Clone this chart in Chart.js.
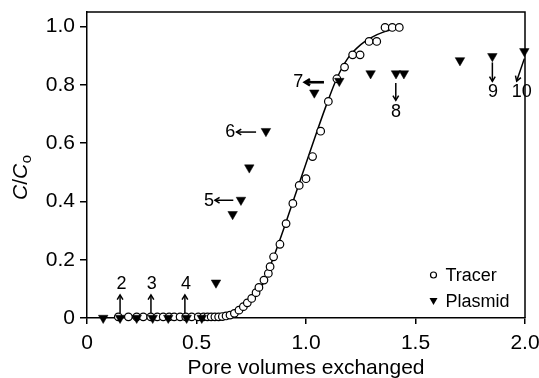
<!DOCTYPE html>
<html>
<head>
<meta charset="utf-8">
<script src="https://cdn.jsdelivr.net/npm/chart.js@4.4.1/dist/chart.umd.min.js"></script>
<style>
  html, body { margin: 0; padding: 0; background: #fff; }
  #wrap { width: 539px; height: 378px; position: relative; }
</style>
</head>
<body>
<div id="wrap"><canvas id="c"></canvas></div>
<script>
// ---- data ----
const tracerX = [0.143,0.189,0.227,0.257,0.291,0.321,0.348,0.375,0.398,0.425,0.451,0.478,0.508,0.532,0.550,0.567,0.584,0.601,0.618,0.635,0.653,0.673,0.694,0.714,0.732,0.752,0.772,0.785,0.808,0.828,0.836,0.852,0.881,0.909,0.940,0.969,1.000,1.030,1.067,1.102,1.141,1.176,1.213,1.247,1.288,1.323,1.361,1.394,1.426];
const tracerY = [0.004,0.004,0.004,0.004,0.004,0.004,0.004,0.004,0.004,0.004,0.004,0.004,0.004,0.004,0.004,0.004,0.004,0.004,0.005,0.007,0.010,0.016,0.027,0.039,0.052,0.067,0.087,0.105,0.130,0.153,0.176,0.210,0.253,0.324,0.393,0.455,0.478,0.554,0.641,0.743,0.821,0.861,0.903,0.903,0.949,0.949,0.997,0.997,0.997];

const plasmidX = [0.074,0.151,0.227,0.300,0.371,0.455,0.524,0.589,0.665,0.703,0.741,0.817,1.038,1.152,1.295,1.411,1.447,1.703,1.851,1.997];
const plasmidY = [0,0,0,0,0,0,0,0.121,0.356,0.405,0.516,0.641,0.773,0.813,0.839,0.839,0.839,0.884,0.898,0.915];

const fitX = [0.45,0.50,0.55,0.60,0.65,0.70,0.75,0.79,0.85,0.90,0.95,1.00,1.05,1.10,1.14,1.19,1.25,1.30,1.35,1.43];
const fitY = [0,0.001,0.002,0.006,0.012,0.027,0.056,0.096,0.205,0.310,0.420,0.530,0.640,0.745,0.821,0.890,0.938,0.963,0.980,0.995];

const xTicks = [0,0.5,1.0,1.5,2.0];
const yTicks = [0,0.2,0.4,0.6,0.8,1.0];

const seriesNames = ['Tracer','Plasmid'];
const xTitle = 'Pore volumes exchanged';

// numbered annotations (data coordinates): label, text position, arrow tail -> head
const notes = [
  {label:'2',  tx:0.158, ty:0.115, fx:0.151, fy:0.017, hx:0.151, hy:0.079},
  {label:'3',  tx:0.296, ty:0.115, fx:0.292, fy:0.017, hx:0.292, hy:0.079},
  {label:'4',  tx:0.452, ty:0.115, fx:0.447, fy:0.017, hx:0.447, hy:0.079},
  {label:'5',  tx:0.557, ty:0.401, fx:0.668, fy:0.404, hx:0.584, hy:0.404},
  {label:'6',  tx:0.654, ty:0.637, fx:0.772, fy:0.638, hx:0.683, hy:0.638},
  {label:'7',  tx:0.965, ty:0.809, fx:1.082, fy:0.809, hx:0.995, hy:0.809, bold:true},
  {label:'8',  tx:1.411, ty:0.707, fx:1.410, fy:0.806, hx:1.410, hy:0.747},
  {label:'9',  tx:1.854, ty:0.777, fx:1.851, fy:0.877, hx:1.851, hy:0.812},
  {label:'10', tx:1.985, ty:0.777, fx:1.997, fy:0.890, hx:1.962, hy:0.813}
];

const FONT = '"Liberation Sans", Arial, Helvetica, sans-serif';

function pts(xs, ys){ return xs.map((x,i)=>({x:x, y:ys[i]})); }

const decor = {
  id: 'decor',
  afterDatasetsDraw(chart){
    const ctx = chart.ctx, a = chart.chartArea;
    const xs = chart.scales.x, ys = chart.scales.y;
    ctx.save();
    // frame (top and right)
    ctx.strokeStyle = '#000'; ctx.lineWidth = 1.5;
    ctx.beginPath();
    ctx.moveTo(a.left, a.top); ctx.lineTo(a.right, a.top); ctx.lineTo(a.right, a.bottom);
    ctx.stroke();

    // annotations
    ctx.fillStyle = '#000';
    ctx.font = '18px ' + FONT;
    ctx.textAlign = 'center'; ctx.textBaseline = 'middle';
    notes.forEach(n => {
      ctx.fillText(n.label, xs.getPixelForValue(n.tx), ys.getPixelForValue(n.ty));
      const x1 = xs.getPixelForValue(n.fx), y1 = ys.getPixelForValue(n.fy);
      const x2 = xs.getPixelForValue(n.hx), y2 = ys.getPixelForValue(n.hy);
      ctx.lineWidth = n.bold ? 2.6 : 1.5;
      ctx.beginPath(); ctx.moveTo(x1,y1); ctx.lineTo(x2,y2); ctx.stroke();
      const ang = Math.atan2(y2-y1, x2-x1), L = n.bold ? 6 : 5.5, w = 0.55;
      ctx.beginPath();
      ctx.moveTo(x2 - L*Math.cos(ang - w), y2 - L*Math.sin(ang - w));
      ctx.lineTo(x2, y2);
      ctx.lineTo(x2 - L*Math.cos(ang + w), y2 - L*Math.sin(ang + w));
      ctx.stroke();
    });

    // legend
    const lx = 433.5, ly1 = 275, ly2 = 301.5;
    ctx.lineWidth = 1.2;
    ctx.fillStyle = '#fff';
    ctx.beginPath(); ctx.arc(lx, ly1, 3, 0, Math.PI*2); ctx.fill(); ctx.stroke();
    ctx.fillStyle = '#000';
    ctx.beginPath(); ctx.moveTo(lx-4, ly2-3.5); ctx.lineTo(lx+4, ly2-3.5); ctx.lineTo(lx, ly2+3.5); ctx.closePath(); ctx.fill();
    ctx.font = '18px ' + FONT;
    ctx.textAlign = 'left'; ctx.textBaseline = 'middle';
    ctx.fillText(seriesNames[0], 445.5, ly1 + 1);
    ctx.fillText(seriesNames[1], 445.5, ly2 + 1);

    // x title
    ctx.font = '21px ' + FONT;
    ctx.textAlign = 'center'; ctx.textBaseline = 'alphabetic';
    ctx.fillText(xTitle, (a.left + a.right)/2, 374);

    // y title: C/Co with italic C and subscript o
    ctx.translate(27, 200);
    ctx.rotate(-Math.PI/2);
    ctx.textAlign = 'left';
    let x = 0;
    ctx.font = 'italic 21px ' + FONT; ctx.fillText('C', x, 0); x += ctx.measureText('C').width;
    ctx.font = '21px ' + FONT; ctx.fillText('/', x, 0); x += ctx.measureText('/').width;
    ctx.font = 'italic 21px ' + FONT; ctx.fillText('C', x, 0); x += ctx.measureText('C').width;
    ctx.font = '15px ' + FONT; ctx.fillText('o', x + 0.5, 4);
    ctx.restore();
  }
};

new Chart(document.getElementById('c'), {
  type: 'scatter',
  data: {
    datasets: [
      { type:'line', label:'fit', data: pts(fitX, fitY), borderColor:'#000', borderWidth:1.5,
        pointRadius:0, showLine:true, fill:false, cubicInterpolationMode:'monotone', clip:false, order:3 },
      { label: seriesNames[0], data: pts(tracerX, tracerY), pointStyle:'circle', pointRadius:3.8,
        backgroundColor:'#fff', borderColor:'#000', borderWidth:1.2, clip:false, order:2 },
      { label: seriesNames[1], data: pts(plasmidX, plasmidY), pointStyle:'triangle', rotation:180,
        pointRadius:5.5, backgroundColor:'#000', borderColor:'#000', borderWidth:0.5, clip:false, order:1 }
    ]
  },
  options: {
    responsive: true,
    maintainAspectRatio: false,
    animation: false,
    layout: { padding: { left: 0, top: 12, right: 14, bottom: 0 } },
    plugins: { legend: { display:false }, tooltip: { enabled:false } },
    scales: {
      x: {
        type:'linear', min:0, max:2.0,
        afterBuildTicks(s){ s.ticks = xTicks.map(v=>({value:v})); },
        afterFit(s){ s.height = 60; s.paddingLeft = 0; s.paddingRight = 0; },
        ticks: { color:'#000', font:{ family: FONT, size:21 }, padding: 7,
          callback: v => v === 0 ? '0' : v.toFixed(1), maxRotation:0, autoSkip:false },
        grid: { display:true, drawOnChartArea:false, drawTicks:true, tickLength:6, color:'#000', lineWidth:1.5 },
        border: { color:'#000', width:1.5 }
      },
      y: {
        type:'linear', min:0, max:1.05,
        afterBuildTicks(s){ s.ticks = yTicks.map(v=>({value:v})); },
        afterFit(s){ s.width = 87; s.paddingTop = 0; s.paddingBottom = 0; },
        ticks: { color:'#000', font:{ family: FONT, size:21 }, padding: 5,
          callback: v => v === 0 ? '0' : v.toFixed(1) },
        grid: { display:true, drawOnChartArea:false, drawTicks:true, tickLength:7, color:'#000', lineWidth:1.5 },
        border: { color:'#000', width:1.5 }
      }
    }
  },
  plugins: [decor]
});
</script>
</body>
</html>
